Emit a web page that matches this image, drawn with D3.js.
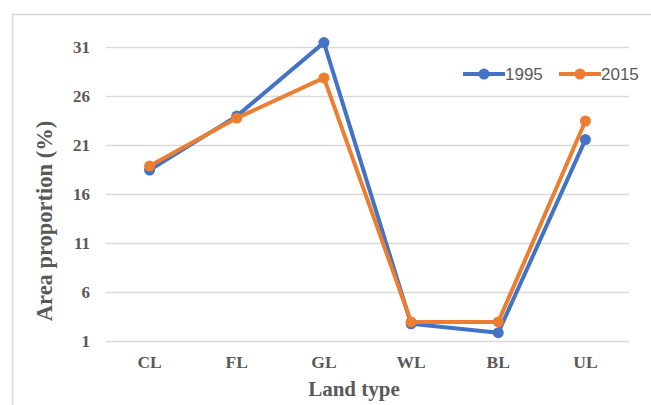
<!DOCTYPE html>
<html><head><meta charset="utf-8">
<script src="https://cdn.jsdelivr.net/npm/d3@7/dist/d3.min.js"></script>
<style>body{margin:0;background:#fff}svg{display:block}</style>
</head><body>
<script>
const categories = ["CL","FL","GL","WL","BL","UL"];
const values1995 = [18.5, 24.0, 31.5, 2.8, 1.9, 21.6];
const values2015 = [18.9, 23.8, 27.9, 3.0, 3.0, 23.5];
const yTicks = [1, 6, 11, 16, 21, 26, 31];
const seriesNames = ["1995", "2015"];
const colors = ["#4472C4", "#ED7D31"];

const W = 651, H = 405;
const svg = d3.select("body").append("svg").attr("width", W).attr("height", H);

svg.append("rect").attr("x", 12.5).attr("y", 14.5).attr("width", 660).attr("height", 420)
  .attr("fill", "none").attr("stroke", "#d9d9d9").attr("stroke-width", 1.5);

const x = d3.scaleBand().domain(categories).range([106, 629]);
const y = d3.scaleLinear().domain([1, 31]).range([341.5, 47.5]);

const grid = svg.append("g");
grid.selectAll("line").data(yTicks).join("line")
  .attr("x1", 106).attr("x2", 629)
  .attr("y1", d => y(d)).attr("y2", d => y(d))
  .attr("stroke", "#d9d9d9").attr("stroke-width", 1.5);

const yAxis = svg.append("g").attr("transform", "translate(106,0)")
  .call(d3.axisLeft(y).tickValues(yTicks).tickSize(0).tickPadding(16));
yAxis.select(".domain").remove();
yAxis.selectAll("text").attr("font-family", "Liberation Serif").attr("font-weight", "bold")
  .attr("font-size", 17).attr("fill", "#595959");

const xAxis = svg.append("g").attr("transform", "translate(0,341.5)")
  .call(d3.axisBottom(x).tickSize(0).tickPadding(14));
xAxis.select(".domain").remove();
xAxis.selectAll("text").attr("font-family", "Liberation Serif").attr("font-weight", "bold")
  .attr("font-size", 17.5).attr("fill", "#595959");

svg.append("text").attr("x", 354).attr("y", 396).attr("text-anchor", "middle")
  .attr("font-family", "Liberation Serif").attr("font-weight", "bold").attr("font-size", 21)
  .attr("fill", "#595959").text("Land type");

svg.append("text").attr("transform", "translate(52,221) rotate(-90)").attr("text-anchor", "middle")
  .attr("font-family", "Liberation Serif").attr("font-weight", "bold").attr("font-size", 22.5)
  .attr("fill", "#595959").text("Area proportion (%)");

const series = [values1995, values2015];
const line = d3.line().x((d, i) => x(categories[i]) + x.bandwidth() / 2).y(d => y(d));
series.forEach((vals, s) => {
  const g = svg.append("g");
  g.append("path").datum(vals).attr("d", line).attr("fill", "none")
    .attr("stroke", colors[s]).attr("stroke-width", 4).attr("stroke-linejoin", "round");
  g.selectAll("circle").data(vals).join("circle")
    .attr("cx", (d, i) => x(categories[i]) + x.bandwidth() / 2).attr("cy", d => y(d))
    .attr("r", 5.5).attr("fill", colors[s]);
});

// legend
const legX = [463, 559];
seriesNames.forEach((n, s) => {
  const g = svg.append("g").attr("transform", `translate(${legX[s]},74)`);
  g.append("line").attr("x1", 0).attr("x2", 42).attr("stroke", colors[s]).attr("stroke-width", 4);
  g.append("circle").attr("cx", 21).attr("r", 5.5).attr("fill", colors[s]);
  g.append("text").attr("x", 42).attr("y", 6).attr("font-family", "Liberation Sans")
    .attr("font-size", 17).attr("fill", "#595959").text(n);
});
</script>
</body></html>
